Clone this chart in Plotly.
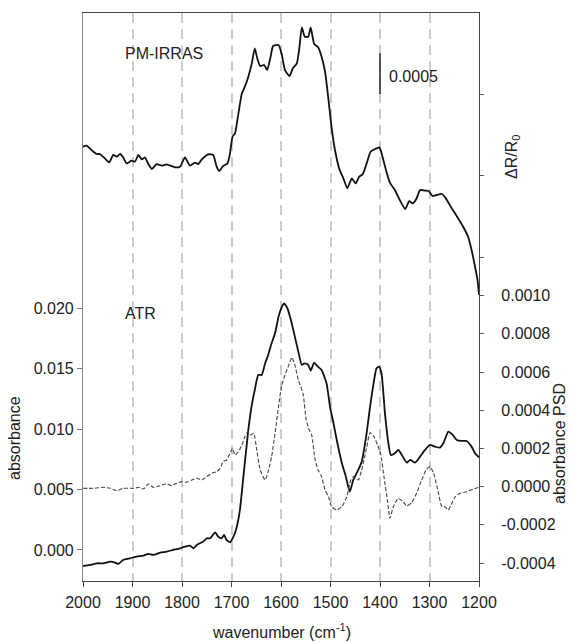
import plotly.graph_objects as go

# ---- PM-IRRAS reflectance difference spectrum (ΔR/R0) ----
pm_wn = [2000, 1993, 1979, 1972, 1966, 1956, 1947, 1939, 1932, 1925, 1919, 1912, 1902, 1895,
         1888, 1881, 1875, 1868, 1861, 1851, 1841, 1831, 1814, 1804, 1794, 1784, 1774, 1767,
         1760, 1747, 1737, 1730, 1725, 1717, 1708, 1703, 1698, 1693, 1686, 1679, 1673, 1666,
         1659, 1653, 1648, 1642, 1634, 1628, 1621, 1616, 1605, 1599, 1592, 1583, 1576, 1568,
         1563, 1558, 1552, 1545, 1540, 1533, 1525, 1518, 1511, 1504, 1498, 1491, 1482, 1474,
         1466, 1457, 1449, 1442, 1435, 1427, 1419, 1410, 1401, 1395, 1387, 1380, 1370, 1360,
         1349, 1341, 1334, 1327, 1319, 1309, 1302, 1294, 1286, 1275, 1267, 1255, 1242, 1232,
         1222, 1215, 1208, 1203, 1200]
pm_dr = [1.354, 1.366, 1.292, 1.264, 1.264, 1.211, 1.162, 1.252, 1.231, 1.264, 1.223, 1.149,
         1.182, 1.170, 1.252, 1.198, 1.223, 1.141, 1.080, 1.141, 1.121, 1.137, 1.100, 1.108,
         1.223, 1.121, 1.157, 1.141, 1.198, 1.260, 1.252, 1.108, 1.055, 1.117, 1.149, 1.272,
         1.476, 1.517, 1.763, 2.008, 2.090, 2.213, 2.376, 2.560, 2.438, 2.344, 2.356, 2.294,
         2.458, 2.589, 2.601, 2.499, 2.294, 2.221, 2.315, 2.376, 2.560, 2.818, 2.703, 2.703,
         2.818, 2.613, 2.573, 2.458, 2.274, 1.926, 1.599, 1.313, 1.076, 0.965, 0.843, 0.965,
         0.904, 0.986, 1.014, 1.149, 1.292, 1.325, 1.346, 1.231, 1.047, 0.912, 0.822, 0.699,
         0.589, 0.687, 0.658, 0.708, 0.822, 0.814, 0.810, 0.749, 0.761, 0.773, 0.720, 0.597,
         0.474, 0.372, 0.249, 0.086, -0.119, -0.282, -0.466]
pm_dr = [v * 1e-3 for v in pm_dr]

# ---- ATR absorbance spectrum ----
atr_wn = [2000, 1986, 1972, 1959, 1945, 1935, 1929, 1919, 1905, 1892, 1878, 1868, 1858, 1844,
          1831, 1818, 1804, 1794, 1784, 1777, 1770, 1764, 1757, 1750, 1743, 1733, 1727, 1720,
          1715, 1710, 1703, 1696, 1690, 1683, 1676, 1666, 1659, 1653, 1646, 1639, 1632, 1626,
          1619, 1612, 1605, 1598, 1594, 1587, 1580, 1572, 1565, 1558, 1552, 1545, 1540, 1533,
          1527, 1518, 1508, 1501, 1494, 1486, 1477, 1469, 1461, 1454, 1444, 1437, 1428, 1420,
          1413, 1407, 1402, 1397, 1390, 1383, 1378, 1370, 1363, 1356, 1346, 1339, 1329, 1319,
          1309, 1299, 1289, 1279, 1272, 1262, 1253, 1245, 1235, 1225, 1215, 1208, 1200]
atr_abs = [-1.325, -1.242, -1.104, -1.104, -0.966, -1.049, -1.159, -0.828, -0.690, -0.552,
           -0.469, -0.331, -0.414, -0.221, -0.138, 0.000, 0.138, 0.276, 0.359, 0.138, 0.414,
           0.552, 0.690, 0.966, 0.966, 1.462, 1.104, 0.966, 1.242, 0.828, 0.635, 1.104, 1.794,
           3.311, 6.071, 9.934, 12.003, 13.245, 14.487, 14.487, 15.453, 16.142, 17.108, 17.936,
           19.316, 20.143, 20.419, 20.005, 19.040, 17.660, 16.418, 15.314, 15.453, 15.314,
           14.845, 15.508, 15.232, 14.901, 13.797, 11.865, 10.486, 8.830, 7.174, 6.071, 4.829,
           5.795, 6.623, 7.312, 9.382, 11.865, 13.797, 15.039, 15.177, 14.625, 11.313, 8.830,
           7.864, 8.002, 8.278, 7.864, 7.230, 7.450, 7.230, 7.726, 8.278, 8.692, 8.554, 8.471,
           8.830, 9.796, 9.520, 9.106, 9.023, 9.023, 8.554, 8.002, 7.671]
atr_abs = [v * 1e-3 for v in atr_abs]

# ---- ATR absorbance PSD spectrum ----
psd_wn = [2000, 1979, 1959, 1945, 1932, 1919, 1898, 1885, 1878, 1868, 1858, 1844, 1831, 1821,
          1811, 1801, 1791, 1780, 1770, 1760, 1750, 1740, 1730, 1723, 1717, 1710, 1703, 1698,
          1693, 1686, 1679, 1673, 1667, 1661, 1655, 1649, 1642, 1632, 1626, 1619, 1612, 1605,
          1599, 1592, 1585, 1578, 1572, 1565, 1560, 1555, 1549, 1543, 1538, 1531, 1525, 1518,
          1511, 1504, 1498, 1488, 1477, 1467, 1459, 1453, 1444, 1437, 1428, 1420, 1412, 1405,
          1399, 1392, 1385, 1380, 1373, 1363, 1353, 1346, 1336, 1326, 1316, 1306, 1299, 1292,
          1284, 1275, 1269, 1262, 1255, 1248, 1238, 1225, 1211, 1200]
psd_val = [-0.087, -0.087, -0.035, -0.087, -0.209, -0.087, -0.087, -0.035, -0.122, 0.140,
           -0.035, 0.052, 0.140, 0.052, 0.175, 0.262, 0.227, 0.349, 0.436, 0.349, 0.524, 0.698,
           0.785, 0.960, 1.309, 1.396, 1.745, 2.007, 1.658, 1.832, 2.182, 2.618, 2.880, 2.705,
           2.792, 1.920, 0.873, 0.349, 0.785, 1.571, 2.792, 4.188, 5.236, 5.846, 6.318, 6.771,
           6.370, 5.585, 5.236, 4.799, 3.490, 2.967, 2.705, 1.396, 0.873, 0.524, -0.175,
           -0.524, -1.047, -1.222, -1.047, -0.524, 0.349, 0.524, 0.349, 0.873, 1.920, 2.827,
           2.618, 2.182, 1.745, 0.524, -0.698, -1.658, -1.047, -0.611, -0.785, -1.012, -0.838,
           -0.349, 0.349, 0.908, 1.047, 0.733, -0.087, -1.047, -1.047, -1.222, -0.873, -0.524,
           -0.349, -0.262, -0.122, -0.035]
psd_val = [v * 1e-4 for v in psd_val]

# axis ticks
x_ticks = list(range(2000, 1199, -100))
abs_ticks = [0.000, 0.005, 0.010, 0.015, 0.020]
psd_ticks = [-0.0004, -0.0002, 0.0000, 0.0002, 0.0004, 0.0006, 0.0008, 0.0010]
psd_ticklabels = ["-0.0004", "-0.0002", "0.0000", "0.0002", "0.0004", "0.0006", "0.0008", "0.0010"]
dr_ticks = [0.000, 0.001, 0.002]

# scale bar for the PM-IRRAS trace
bar_wn = [1400, 1400]
bar_dr = [0.0020, 0.0025]

FONT = "Liberation Sans, Arial, sans-serif"
TXT = "#222222"
FS = 16

fig = go.Figure()
fig.add_trace(go.Scatter(x=atr_wn, y=atr_abs, mode="lines", yaxis="y",
                         line=dict(color="#111111", width=1.8, shape="spline", smoothing=0.5)))
fig.add_trace(go.Scatter(x=psd_wn, y=psd_val, mode="lines", yaxis="y2",
                         line=dict(color="#444444", width=1.1, dash="4px,2px",
                                   shape="spline", smoothing=0.5)))
fig.add_trace(go.Scatter(x=pm_wn, y=pm_dr, mode="lines", yaxis="y3",
                         line=dict(color="#111111", width=1.8, shape="spline", smoothing=0.5)))
fig.add_trace(go.Scatter(x=bar_wn, y=bar_dr, mode="lines", yaxis="y3",
                         line=dict(color="#222222", width=1.5)))


def label(text, x, y, xref="paper", yref="paper", angle=0, xanchor="center"):
    return dict(text=text, xref=xref, yref=yref, x=x, y=y, textangle=angle,
                xanchor=xanchor, yanchor="middle", showarrow=False,
                font=dict(size=FS, color=TXT))


fig.update_layout(
    width=571, height=642,
    margin=dict(l=83, r=92, t=13, b=61),
    paper_bgcolor="white", plot_bgcolor="white",
    showlegend=False,
    font=dict(family=FONT, size=FS, color=TXT),
    xaxis=dict(
        range=[2000, 1200], tickvals=x_ticks, ticks="outside", ticklen=5,
        tickcolor="#444444", showline=True, linecolor="#444444", linewidth=1.2,
        mirror=True, showgrid=True, gridcolor="#cccccc", gridwidth=1.6,
        griddash="10px,6px", zeroline=False, tickfont=dict(size=FS, color=TXT),
        ticklabelstandoff=2,
    ),
    yaxis=dict(
        range=[-0.00257, 0.04445], tickvals=abs_ticks, tickformat=".3f",
        ticks="outside", ticklen=5, tickcolor="#777777", showline=True,
        linecolor="#888888", linewidth=1.2, showgrid=False, zeroline=False,
        tickfont=dict(size=FS, color=TXT),
    ),
    yaxis2=dict(
        range=[-0.000494, 0.00248], tickvals=psd_ticks, ticktext=psd_ticklabels,
        overlaying="y", side="right", anchor="x", ticks="outside", ticklen=4,
        tickcolor="#555555", showline=True, linecolor="#444444", linewidth=1.2,
        showgrid=False, zeroline=False, tickfont=dict(size=FS, color=TXT),
        ticklabelstandoff=14,
    ),
    yaxis3=dict(
        range=[-0.003975, 0.002994], tickvals=dr_ticks, showticklabels=False,
        overlaying="y", side="right", anchor="x", ticks="outside", ticklen=4,
        tickcolor="#555555", showline=False, showgrid=False, zeroline=False,
    ),
    annotations=[
        label("absorbance", -0.1717, 0.2518, angle=-90),
        label("ΔR/R<sub>0</sub>", 1.0859, 0.7465, angle=-90),
        label("absorbance PSD", 1.2045, 0.243, angle=-90),
        label("wavenumber (cm<sup>-1</sup>)", 0.5, -0.088),
        label("PM-IRRAS", 1836, 0.002503, xref="x", yref="y3"),
        label("ATR", 1883, 0.01954, xref="x", yref="y"),
        label("0.0005", 1386, 0.00222, xref="x", yref="y3", xanchor="left"),
    ],
)

fig.write_html("out.html")
